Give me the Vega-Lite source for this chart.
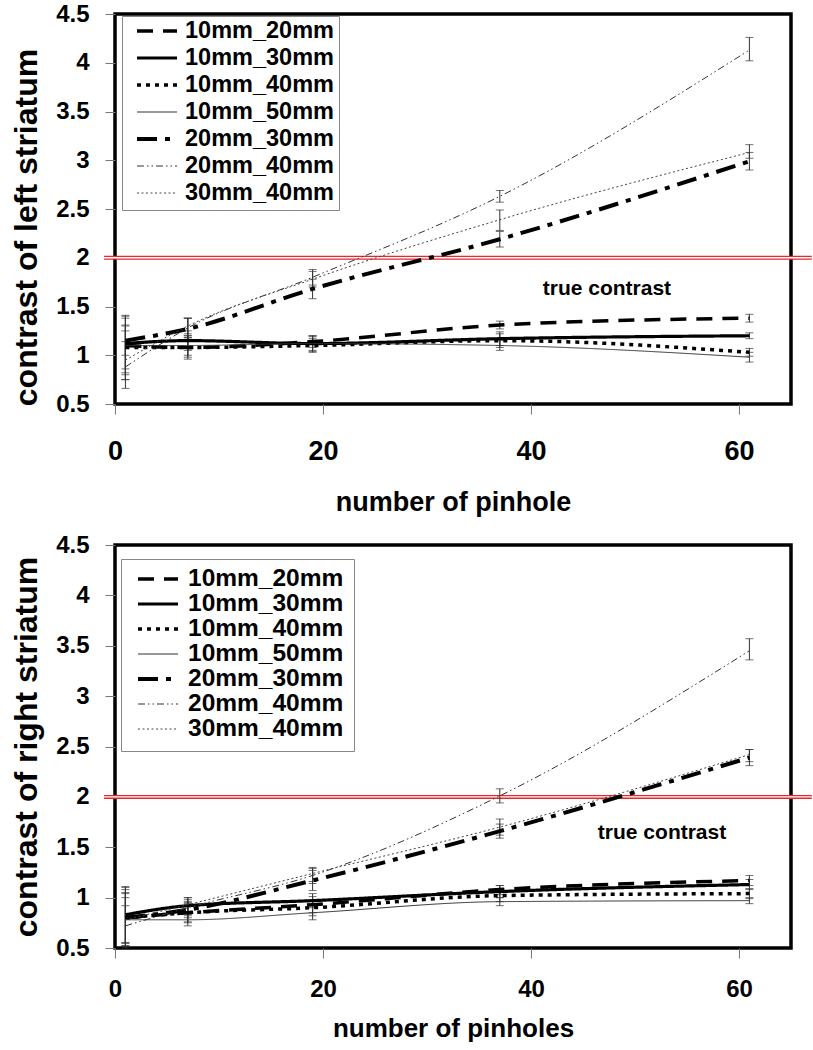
{
  "$schema": "https://vega.github.io/schema/vega-lite/v6.json",
  "padding": {"left": 8, "top": 0, "right": 0, "bottom": 0},
  "spacing": 14,
  "datasets": {
    "left": [
      {"series": "10mm_20mm", "n": 1, "c": 1.10, "lo": 0.80, "hi": 1.40},
      {"series": "10mm_20mm", "n": 7, "c": 1.08, "lo": 0.98, "hi": 1.18},
      {"series": "10mm_20mm", "n": 19, "c": 1.14, "lo": 1.08, "hi": 1.20},
      {"series": "10mm_20mm", "n": 37, "c": 1.31, "lo": 1.27, "hi": 1.35},
      {"series": "10mm_20mm", "n": 61, "c": 1.38, "lo": 1.34, "hi": 1.42},
      {"series": "10mm_30mm", "n": 1, "c": 1.12, "lo": 0.86, "hi": 1.31},
      {"series": "10mm_30mm", "n": 7, "c": 1.15, "lo": 1.05, "hi": 1.25},
      {"series": "10mm_30mm", "n": 19, "c": 1.12, "lo": 1.05, "hi": 1.19},
      {"series": "10mm_30mm", "n": 37, "c": 1.17, "lo": 1.10, "hi": 1.24},
      {"series": "10mm_30mm", "n": 61, "c": 1.20, "lo": 1.17, "hi": 1.23},
      {"series": "10mm_40mm", "n": 1, "c": 1.08, "lo": 0.75, "hi": 1.41},
      {"series": "10mm_40mm", "n": 7, "c": 1.08, "lo": 0.96, "hi": 1.20},
      {"series": "10mm_40mm", "n": 19, "c": 1.10, "lo": 1.03, "hi": 1.17},
      {"series": "10mm_40mm", "n": 37, "c": 1.15, "lo": 1.08, "hi": 1.22},
      {"series": "10mm_40mm", "n": 61, "c": 1.03, "lo": 0.99, "hi": 1.07},
      {"series": "10mm_50mm", "n": 1, "c": 1.10, "lo": 0.82, "hi": 1.38},
      {"series": "10mm_50mm", "n": 7, "c": 1.10, "lo": 1.00, "hi": 1.20},
      {"series": "10mm_50mm", "n": 19, "c": 1.12, "lo": 1.04, "hi": 1.20},
      {"series": "10mm_50mm", "n": 37, "c": 1.10, "lo": 1.05, "hi": 1.15},
      {"series": "10mm_50mm", "n": 61, "c": 0.98, "lo": 0.93, "hi": 1.03},
      {"series": "20mm_30mm", "n": 1, "c": 1.15, "lo": 1.00, "hi": 1.30},
      {"series": "20mm_30mm", "n": 7, "c": 1.27, "lo": 1.16, "hi": 1.38},
      {"series": "20mm_30mm", "n": 19, "c": 1.68, "lo": 1.58, "hi": 1.78},
      {"series": "20mm_30mm", "n": 37, "c": 2.19, "lo": 2.11, "hi": 2.27},
      {"series": "20mm_30mm", "n": 61, "c": 2.99, "lo": 2.90, "hi": 3.08},
      {"series": "20mm_40mm", "n": 1, "c": 0.88, "lo": 0.66, "hi": 1.14},
      {"series": "20mm_40mm", "n": 7, "c": 1.28, "lo": 1.18, "hi": 1.38},
      {"series": "20mm_40mm", "n": 19, "c": 1.80, "lo": 1.72, "hi": 1.88},
      {"series": "20mm_40mm", "n": 37, "c": 2.63, "lo": 2.57, "hi": 2.69},
      {"series": "20mm_40mm", "n": 61, "c": 4.13, "lo": 4.02, "hi": 4.26},
      {"series": "30mm_40mm", "n": 1, "c": 0.95, "lo": 0.75, "hi": 1.25},
      {"series": "30mm_40mm", "n": 7, "c": 1.30, "lo": 1.22, "hi": 1.38},
      {"series": "30mm_40mm", "n": 19, "c": 1.78, "lo": 1.70, "hi": 1.86},
      {"series": "30mm_40mm", "n": 37, "c": 2.39, "lo": 2.28, "hi": 2.49},
      {"series": "30mm_40mm", "n": 61, "c": 3.08, "lo": 3.02, "hi": 3.16}
    ],
    "right": [
      {"series": "10mm_20mm", "n": 1, "c": 0.80, "lo": 0.52, "hi": 1.08},
      {"series": "10mm_20mm", "n": 7, "c": 0.85, "lo": 0.75, "hi": 0.95},
      {"series": "10mm_20mm", "n": 19, "c": 0.93, "lo": 0.85, "hi": 1.01},
      {"series": "10mm_20mm", "n": 37, "c": 1.08, "lo": 1.03, "hi": 1.12},
      {"series": "10mm_20mm", "n": 61, "c": 1.17, "lo": 1.12, "hi": 1.22},
      {"series": "10mm_30mm", "n": 1, "c": 0.83, "lo": 0.55, "hi": 1.11},
      {"series": "10mm_30mm", "n": 7, "c": 0.92, "lo": 0.84, "hi": 1.00},
      {"series": "10mm_30mm", "n": 19, "c": 0.97, "lo": 0.90, "hi": 1.04},
      {"series": "10mm_30mm", "n": 37, "c": 1.06, "lo": 1.00, "hi": 1.12},
      {"series": "10mm_30mm", "n": 61, "c": 1.13, "lo": 1.08, "hi": 1.18},
      {"series": "10mm_40mm", "n": 1, "c": 0.80, "lo": 0.50, "hi": 1.10},
      {"series": "10mm_40mm", "n": 7, "c": 0.85, "lo": 0.76, "hi": 0.94},
      {"series": "10mm_40mm", "n": 19, "c": 0.90, "lo": 0.82, "hi": 0.98},
      {"series": "10mm_40mm", "n": 37, "c": 1.02, "lo": 0.96, "hi": 1.08},
      {"series": "10mm_40mm", "n": 61, "c": 1.04, "lo": 0.99, "hi": 1.09},
      {"series": "10mm_50mm", "n": 1, "c": 0.78, "lo": 0.52, "hi": 1.04},
      {"series": "10mm_50mm", "n": 7, "c": 0.78, "lo": 0.72, "hi": 0.84},
      {"series": "10mm_50mm", "n": 19, "c": 0.85, "lo": 0.78, "hi": 0.92},
      {"series": "10mm_50mm", "n": 37, "c": 0.96, "lo": 0.92, "hi": 1.00},
      {"series": "10mm_50mm", "n": 61, "c": 0.97, "lo": 0.94, "hi": 1.00},
      {"series": "20mm_30mm", "n": 1, "c": 0.80, "lo": 0.55, "hi": 1.05},
      {"series": "20mm_30mm", "n": 7, "c": 0.88, "lo": 0.80, "hi": 0.96},
      {"series": "20mm_30mm", "n": 19, "c": 1.17, "lo": 1.07, "hi": 1.27},
      {"series": "20mm_30mm", "n": 37, "c": 1.66, "lo": 1.59, "hi": 1.73},
      {"series": "20mm_30mm", "n": 61, "c": 2.39, "lo": 2.31, "hi": 2.47},
      {"series": "20mm_40mm", "n": 1, "c": 0.72, "lo": 0.52, "hi": 0.92},
      {"series": "20mm_40mm", "n": 7, "c": 0.90, "lo": 0.82, "hi": 0.98},
      {"series": "20mm_40mm", "n": 19, "c": 1.22, "lo": 1.14, "hi": 1.29},
      {"series": "20mm_40mm", "n": 37, "c": 2.01, "lo": 1.94, "hi": 2.08},
      {"series": "20mm_40mm", "n": 61, "c": 3.45, "lo": 3.36, "hi": 3.57},
      {"series": "30mm_40mm", "n": 1, "c": 0.78, "lo": 0.55, "hi": 1.00},
      {"series": "30mm_40mm", "n": 7, "c": 0.93, "lo": 0.86, "hi": 1.00},
      {"series": "30mm_40mm", "n": 19, "c": 1.24, "lo": 1.16, "hi": 1.30},
      {"series": "30mm_40mm", "n": 37, "c": 1.70, "lo": 1.62, "hi": 1.78},
      {"series": "30mm_40mm", "n": 61, "c": 2.42, "lo": 2.35, "hi": 2.47}
    ],
    "ref": [{"y": 2, "x1": -1.06, "x2": 67}],
    "noteTop": [{"x": 47.3, "y": 1.62, "t": "true contrast"}],
    "noteBottom": [{"x": 52.6, "y": 1.58, "t": "true contrast"}]
  },
  "vconcat": [
    {
      "width": 676,
      "height": 390,
      "encoding": {
        "x": {"type": "quantitative", "scale": {"domain": [0, 65], "nice": false},
          "axis": {"values": [0, 20, 40, 60], "title": "number of pinhole", "labelFontSize": 27, "labelPadding": 24, "titleFontSize": 27, "titlePadding": 25}},
        "y": {"type": "quantitative", "scale": {"domain": [0.5, 4.5], "nice": false, "zero": false},
          "axis": {"values": [0.5, 1, 1.5, 2, 2.5, 3, 3.5, 4, 4.5], "format": "~g", "title": "contrast of left striatum", "labelFontSize": 24, "labelPadding": 16, "titleFontSize": 32, "titlePadding": 12, "titleY": 213}}
      },
      "layer": [
        {"data": {"name": "ref"}, "mark": {"type": "rule", "color": "#e8262b", "strokeWidth": 4},
          "encoding": {"x": {"field": "x1"}, "x2": {"field": "x2"}, "y": {"field": "y"}}},
        {"data": {"name": "ref"}, "mark": {"type": "rule", "color": "#ffffff", "strokeWidth": 1.3},
          "encoding": {"x": {"field": "x1"}, "x2": {"field": "x2"}, "y": {"field": "y"}}},
        {"data": {"name": "left"}, "mark": {"type": "rule", "color": "#333", "strokeWidth": 1},
          "encoding": {"x": {"field": "n"}, "y": {"field": "lo"}, "y2": {"field": "hi"}}},
        {"data": {"name": "left"}, "mark": {"type": "tick", "orient": "horizontal", "size": 8, "thickness": 1, "color": "#333"},
          "encoding": {"x": {"field": "n"}, "y": {"field": "lo"}}},
        {"data": {"name": "left"}, "mark": {"type": "tick", "orient": "horizontal", "size": 8, "thickness": 1, "color": "#333"},
          "encoding": {"x": {"field": "n"}, "y": {"field": "hi"}}},
        {"data": {"name": "left"}, "mark": {"type": "line", "interpolate": "monotone"},
          "encoding": {
            "x": {"field": "n"},
            "y": {"field": "c"},
            "color": {"field": "series", "type": "nominal",
              "scale": {"domain": ["10mm_20mm","10mm_30mm","10mm_40mm","10mm_50mm","20mm_30mm","20mm_40mm","30mm_40mm"], "range": ["#000","#000","#000","#333","#000","#333","#444"]},
              "legend": {"title": null, "orient": "none", "legendX": 7, "legendY": 2, "symbolType": "stroke", "symbolSize": 1600, "labelFontSize": 23.5, "labelFontWeight": "bold", "labelFont": "Liberation Sans", "labelColor": "#000", "clipHeight": 20, "rowPadding": 3, "padding": 5, "strokeColor": "#888", "fillColor": "#fff", "labelOffset": 6, "symbolOffset": 8}},
            "strokeDash": {"field": "series", "type": "nominal",
              "scale": {"domain": ["10mm_20mm","10mm_30mm","10mm_40mm","10mm_50mm","20mm_30mm","20mm_40mm","30mm_40mm"], "range": [[16,10],[1,0],[4,5],[1,0],[20,8,5,8],[7,3,1.5,3,1.5,3],[2,2.5]]},
              "legend": {"title": null, "orient": "none", "legendX": 7, "legendY": 2, "symbolType": "stroke", "symbolSize": 1600, "labelFontSize": 23.5, "labelFontWeight": "bold", "labelFont": "Liberation Sans", "labelColor": "#000", "clipHeight": 20, "rowPadding": 3, "padding": 5, "strokeColor": "#888", "fillColor": "#fff", "labelOffset": 6, "symbolOffset": 8}},
            "strokeWidth": {"field": "series", "type": "nominal",
              "scale": {"type": "ordinal", "domain": ["10mm_20mm","10mm_30mm","10mm_40mm","10mm_50mm","20mm_30mm","20mm_40mm","30mm_40mm"], "range": [3.5,3.2,3.5,1,4,1,1]},
              "legend": {"title": null, "orient": "none", "legendX": 7, "legendY": 2, "symbolType": "stroke", "symbolSize": 1600, "labelFontSize": 23.5, "labelFontWeight": "bold", "labelFont": "Liberation Sans", "labelColor": "#000", "clipHeight": 20, "rowPadding": 3, "padding": 5, "strokeColor": "#888", "fillColor": "#fff", "labelOffset": 6, "symbolOffset": 8}}
          }},
        {"data": {"name": "noteTop"}, "mark": {"type": "text", "fontSize": 21, "fontWeight": "bold", "font": "Liberation Sans", "align": "center", "baseline": "alphabetic", "color": "#000"},
          "encoding": {"x": {"field": "x"}, "y": {"field": "y"}, "text": {"field": "t"}}}
      ]
    },
    {
      "width": 676,
      "height": 403,
      "encoding": {
        "x": {"type": "quantitative", "scale": {"domain": [0, 65], "nice": false},
          "axis": {"values": [0, 20, 40, 60], "title": "number of pinholes", "labelFontSize": 24, "labelPadding": 19, "titleFontSize": 26, "titlePadding": 14}},
        "y": {"type": "quantitative", "scale": {"domain": [0.5, 4.5], "nice": false, "zero": false},
          "axis": {"values": [0.5, 1, 1.5, 2, 2.5, 3, 3.5, 4, 4.5], "format": "~g", "title": "contrast of right striatum", "labelFontSize": 24, "labelPadding": 16, "titleFontSize": 32, "titlePadding": 12}}
      },
      "layer": [
        {"data": {"name": "ref"}, "mark": {"type": "rule", "color": "#e8262b", "strokeWidth": 4},
          "encoding": {"x": {"field": "x1"}, "x2": {"field": "x2"}, "y": {"field": "y"}}},
        {"data": {"name": "ref"}, "mark": {"type": "rule", "color": "#ffffff", "strokeWidth": 1.3},
          "encoding": {"x": {"field": "x1"}, "x2": {"field": "x2"}, "y": {"field": "y"}}},
        {"data": {"name": "right"}, "mark": {"type": "rule", "color": "#333", "strokeWidth": 1},
          "encoding": {"x": {"field": "n"}, "y": {"field": "lo"}, "y2": {"field": "hi"}}},
        {"data": {"name": "right"}, "mark": {"type": "tick", "orient": "horizontal", "size": 8, "thickness": 1, "color": "#333"},
          "encoding": {"x": {"field": "n"}, "y": {"field": "lo"}}},
        {"data": {"name": "right"}, "mark": {"type": "tick", "orient": "horizontal", "size": 8, "thickness": 1, "color": "#333"},
          "encoding": {"x": {"field": "n"}, "y": {"field": "hi"}}},
        {"data": {"name": "right"}, "mark": {"type": "line", "interpolate": "monotone"},
          "encoding": {
            "x": {"field": "n"},
            "y": {"field": "c"},
            "color": {"field": "series", "type": "nominal",
              "scale": {"domain": ["10mm_20mm","10mm_30mm","10mm_40mm","10mm_50mm","20mm_30mm","20mm_40mm","30mm_40mm"], "range": ["#000","#000","#000","#333","#000","#333","#444"]},
              "legend": {"title": null, "orient": "none", "legendX": 6, "legendY": 14, "symbolType": "stroke", "symbolSize": 1600, "labelFontSize": 24.5, "labelFontWeight": "bold", "labelFont": "Liberation Sans", "labelColor": "#000", "clipHeight": 20, "rowPadding": 0, "padding": 10, "strokeColor": "#888", "fillColor": "#fff", "labelOffset": 8, "symbolOffset": 5}},
            "strokeDash": {"field": "series", "type": "nominal",
              "scale": {"domain": ["10mm_20mm","10mm_30mm","10mm_40mm","10mm_50mm","20mm_30mm","20mm_40mm","30mm_40mm"], "range": [[16,10],[1,0],[4,5],[1,0],[20,8,5,8],[7,3,1.5,3,1.5,3],[2,2.5]]},
              "legend": {"title": null, "orient": "none", "legendX": 6, "legendY": 14, "symbolType": "stroke", "symbolSize": 1600, "labelFontSize": 24.5, "labelFontWeight": "bold", "labelFont": "Liberation Sans", "labelColor": "#000", "clipHeight": 20, "rowPadding": 0, "padding": 10, "strokeColor": "#888", "fillColor": "#fff", "labelOffset": 8, "symbolOffset": 5}},
            "strokeWidth": {"field": "series", "type": "nominal",
              "scale": {"type": "ordinal", "domain": ["10mm_20mm","10mm_30mm","10mm_40mm","10mm_50mm","20mm_30mm","20mm_40mm","30mm_40mm"], "range": [3.5,3.2,3.5,1,4,1,1]},
              "legend": {"title": null, "orient": "none", "legendX": 6, "legendY": 14, "symbolType": "stroke", "symbolSize": 1600, "labelFontSize": 24.5, "labelFontWeight": "bold", "labelFont": "Liberation Sans", "labelColor": "#000", "clipHeight": 20, "rowPadding": 0, "padding": 10, "strokeColor": "#888", "fillColor": "#fff", "labelOffset": 8, "symbolOffset": 5}}
          }},
        {"data": {"name": "noteBottom"}, "mark": {"type": "text", "fontSize": 21, "fontWeight": "bold", "font": "Liberation Sans", "align": "center", "baseline": "alphabetic", "color": "#000"},
          "encoding": {"x": {"field": "x"}, "y": {"field": "y"}, "text": {"field": "t"}}}
      ]
    }
  ],
  "resolve": {
    "scale": {"color": "independent", "strokeDash": "independent", "strokeWidth": "independent"},
    "legend": {"color": "independent", "strokeDash": "independent", "strokeWidth": "independent"}
  },
  "config": {
    "font": "Liberation Sans",
    "view": {"stroke": "#000", "strokeWidth": 3.5},
    "axis": {"labelFont": "Liberation Sans", "titleFont": "Liberation Sans", "labelFontWeight": "bold", "titleFontWeight": "bold", "labelColor": "#000", "titleColor": "#000", "domain": false, "grid": false, "tickColor": "#777", "tickSize": 10, "tickWidth": 1, "labelOverlap": false, "labelFlush": false}
  }
}
